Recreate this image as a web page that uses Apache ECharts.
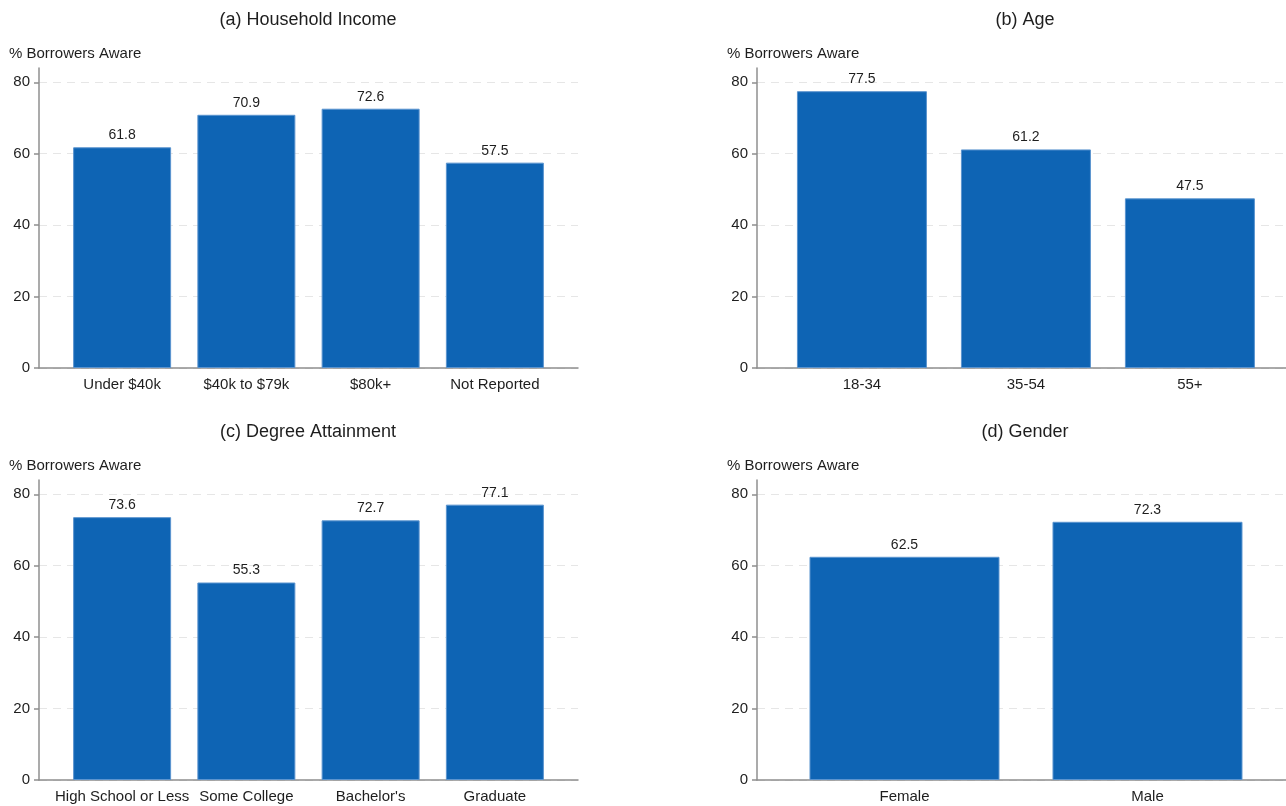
<!DOCTYPE html>
<html>
<head>
<meta charset="utf-8">
<script src="https://cdn.jsdelivr.net/npm/echarts@6/dist/echarts.min.js"></script>
<style>
html,body{margin:0;padding:0;background:#fff;}
#chart{width:1286px;height:806px;}
</style>
</head>
<body>
<div id="chart"></div>
<script>
// ---- data ----
const incomeCats = ['Under $40k', '$40k to $79k', '$80k+', 'Not Reported'];
const incomeVals = [61.8, 70.9, 72.6, 57.5];
const ageCats = ['18-34', '35-54', '55+'];
const ageVals = [77.5, 61.2, 47.5];
const degreeCats = ['High School or Less', 'Some College', "Bachelor's", 'Graduate'];
const degreeVals = [73.6, 55.3, 72.7, 77.1];
const genderCats = ['Female', 'Male'];
const genderVals = [62.5, 72.3];
const yTicks = [0, 20, 40, 60, 80];
const titles = ['(a) Household Income', '(b) Age', '(c) Degree Attainment', '(d) Gender'];
const yName = '% Borrowers Aware';

// ---- layout ----
const FONT = '"Liberation Sans", Arial, sans-serif';
const TXT = '#1e1e1e';
const panels = [
  {cats: incomeCats, vals: incomeVals, left: 39, top: 68, width: 539, pad: 0.669, maxX: 4.338, barW: 98, titleX: 308},
  {cats: ageCats, vals: ageVals, left: 757, top: 68, width: 529, pad: 0.64, maxX: 3.226, barW: 130, titleX: 1025},
  {cats: degreeCats, vals: degreeVals, left: 39, top: 480, width: 539, pad: 0.669, maxX: 4.338, barW: 98, titleX: 308},
  {cats: genderCats, vals: genderVals, left: 757, top: 480, width: 529, pad: 0.607, maxX: 2.177, barW: 190, titleX: 1025}
];
const H = 300;

const grid = [], xAxis = [], yAxis = [], series = [], graphic = [];
panels.forEach((p, i) => {
  const pos = p.cats.map((c, k) => p.pad + k);
  grid.push({left: p.left, top: p.top, width: p.width, height: H, containLabel: false});
  xAxis.push({
    type: 'value', gridIndex: i, min: 0, max: p.maxX,
    axisLine: {show: true, lineStyle: {color: '#8f8f8f', width: 1.5}},
    axisTick: {show: false},
    splitLine: {show: false},
    axisLabel: {
      customValues: pos,
      formatter: v => p.cats[Math.round(v - p.pad)],
      fontFamily: FONT, fontSize: 15, color: TXT, margin: 9
    }
  });
  yAxis.push({
    type: 'value', gridIndex: i, min: 0, max: 84,
    axisLine: {show: true, lineStyle: {color: '#8f8f8f', width: 1.5}},
    axisTick: {show: true, length: 5, customValues: yTicks, lineStyle: {color: '#8f8f8f', width: 1.5}},
    axisLabel: {customValues: yTicks, fontFamily: FONT, fontSize: 15, color: TXT, margin: 9},
    splitLine: {show: true, lineStyle: {color: '#e6e6e6', type: [8, 6], width: 1}}
  });
  series.push({
    type: 'bar', xAxisIndex: i, yAxisIndex: i,
    barWidth: p.barW,
    data: p.vals.map((v, k) => [pos[k], v]),
    itemStyle: {color: '#0E64B4', borderColor: '#5B94CF', borderWidth: 1},
    label: {show: true, position: 'top', distance: 5, fontFamily: FONT, fontSize: 14, color: TXT,
            formatter: d => d.value[1].toFixed(1)},
    silent: true
  });
  graphic.push({
    type: 'text', left: p.left - 30, top: p.top - 22,
    style: {text: yName, font: '15px ' + FONT, fill: TXT}
  });
  graphic.push({
    type: 'text', x: p.titleX, y: p.top - 48,
    style: {text: titles[i], font: '18px ' + FONT, fill: TXT, textAlign: 'center', textVerticalAlign: 'middle'}
  });
});

const chart = echarts.init(document.getElementById('chart'), null, {renderer: 'canvas'});
chart.setOption({
  animation: false,
  backgroundColor: '#fff',
  grid, xAxis, yAxis, series, graphic
});
</script>
</body>
</html>
